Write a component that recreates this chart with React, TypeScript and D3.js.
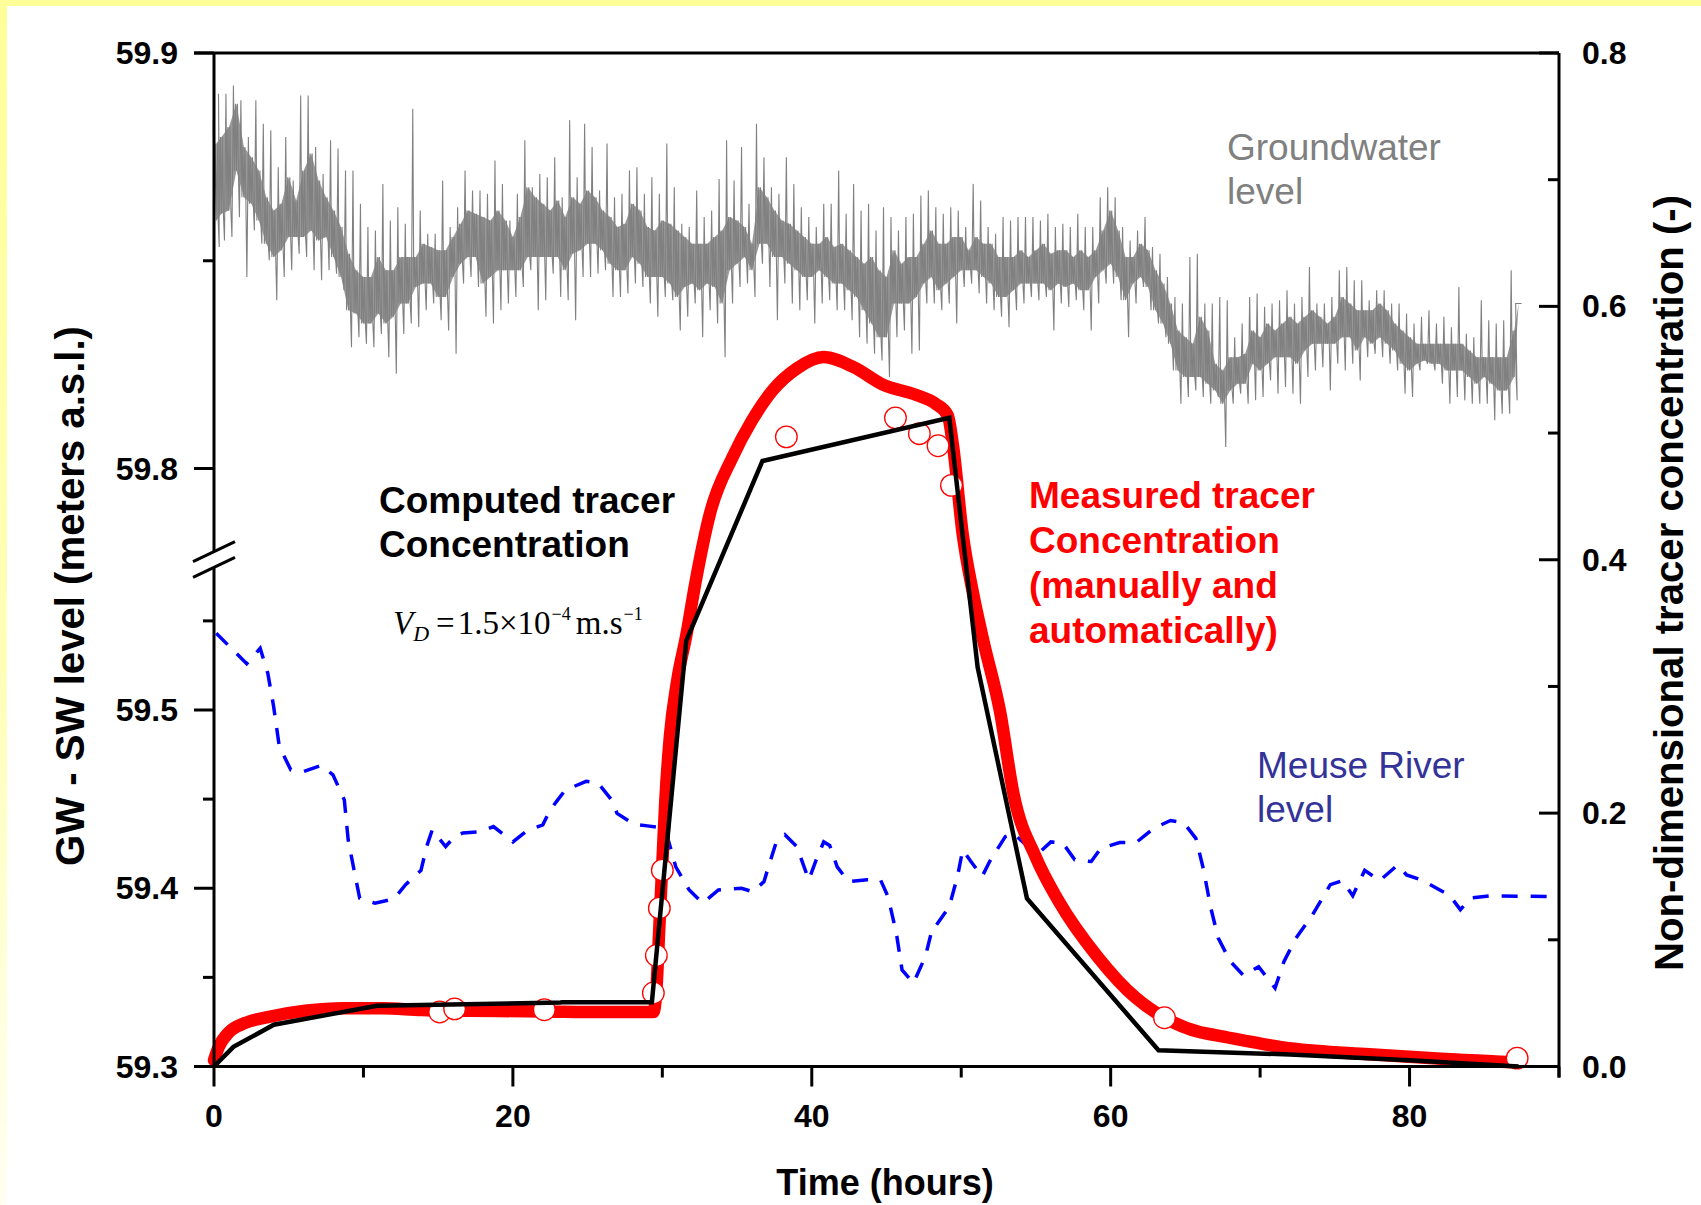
import React from 'react';
import * as d3 from 'd3';

// ---------------- DATA ----------------
// Groundwater level (m a.s.l.), read every half hour: spike extremes and dense core band
const gwTime = [0.15, 0.5, 1, 1.5, 2, 2.5, 3, 3.5, 4, 4.5, 5, 5.5, 6, 6.5, 7, 7.5, 8, 8.5, 9, 9.5, 10, 10.5, 11, 11.5, 12, 12.5, 13, 13.5, 14, 14.5, 15, 15.5, 16, 16.5, 17, 17.5, 18, 18.5, 19, 19.5, 20, 20.5, 21, 21.5, 22, 22.5, 23, 23.5, 24, 24.5, 25, 25.5, 26, 26.5, 27, 27.5, 28, 28.5, 29, 29.5, 30, 30.5, 31, 31.5, 32, 32.5, 33, 33.5, 34, 34.5, 35, 35.5, 36, 36.5, 37, 37.5, 38, 38.5, 39, 39.5, 40, 40.5, 41, 41.5, 42, 42.5, 43, 43.5, 44, 44.5, 45, 45.5, 46, 46.5, 47, 47.5, 48, 48.5, 49, 49.5, 50, 50.5, 51, 51.5, 52, 52.5, 53, 53.5, 54, 54.5, 55, 55.5, 56, 56.5, 57, 57.5, 58, 58.5, 59, 59.5, 60, 60.5, 61, 61.5, 62, 62.5, 63, 63.5, 64, 64.5, 65, 65.5, 66, 66.5, 67, 67.5, 68, 68.5, 69, 69.5, 70, 70.5, 71, 71.5, 72, 72.5, 73, 73.5, 74, 74.5, 75, 75.5, 76, 76.5, 77, 77.5, 78, 78.5, 79, 79.5, 80, 80.5, 81, 81.5, 82, 82.5, 83, 83.5, 84, 84.5, 85, 85.5, 86, 86.5, 87, 87.3];
const gwSpikeHigh = [59.8838, 59.8902, 59.8902, 59.8922, 59.8886, 59.8798, 59.8886, 59.8830, 59.8814, 59.8725, 59.8798, 59.8693, 59.8898, 59.8898, 59.8774, 59.8709, 59.8790, 59.8770, 59.8717, 59.8717, 59.8637, 59.8581, 59.8573, 59.8685, 59.8597, 59.8629, 59.8589, 59.8866, 59.8621, 59.8565, 59.8565, 59.8693, 59.8581, 59.8629, 59.8717, 59.8669, 59.8669, 59.8661, 59.8741, 59.8685, 59.8597, 59.8661, 59.8790, 59.8677, 59.8709, 59.8701, 59.8749, 59.8653, 59.8838, 59.8701, 59.8830, 59.8774, 59.8669, 59.8782, 59.8653, 59.8661, 59.8717, 59.8725, 59.8661, 59.8701, 59.8661, 59.8782, 59.8677, 59.8589, 59.8581, 59.8669, 59.8605, 59.8621, 59.8697, 59.8790, 59.8693, 59.8774, 59.8637, 59.8830, 59.8749, 59.8677, 59.8661, 59.8749, 59.8685, 59.8629, 59.8605, 59.8581, 59.8637, 59.8637, 59.8717, 59.8613, 59.8685, 59.8621, 59.8637, 59.8573, 59.8629, 59.8605, 59.8573, 59.8605, 59.8613, 59.8657, 59.8669, 59.8629, 59.8613, 59.8629, 59.8621, 59.8581, 59.8685, 59.8645, 59.8581, 59.8565, 59.8605, 59.8597, 59.8605, 59.8605, 59.8605, 59.8597, 59.8613, 59.8581, 59.8589, 59.8581, 59.8613, 59.8581, 59.8581, 59.8653, 59.8677, 59.8653, 59.8581, 59.8549, 59.8573, 59.8605, 59.8533, 59.8517, 59.8461, 59.8413, 59.8397, 59.8509, 59.8517, 59.8397, 59.8397, 59.8413, 59.8405, 59.8316, 59.8349, 59.8413, 59.8421, 59.8389, 59.8397, 59.8405, 59.8429, 59.8397, 59.8413, 59.8485, 59.8397, 59.8397, 59.8413, 59.8477, 59.8485, 59.8453, 59.8453, 59.8405, 59.8429, 59.8429, 59.8397, 59.8397, 59.8373, 59.8349, 59.8365, 59.8381, 59.8349, 59.8365, 59.8340, 59.8437, 59.8324, 59.8316, 59.8405, 59.8357, 59.8349, 59.8357, 59.8477, 59.8397];
const gwSpikeLow = [59.8533, 59.8549, 59.8557, 59.8605, 59.8461, 59.8573, 59.8541, 59.8501, 59.8405, 59.8461, 59.8477, 59.8517, 59.8509, 59.8477, 59.8453, 59.8477, 59.8469, 59.8429, 59.8292, 59.8316, 59.8300, 59.8292, 59.8324, 59.8268, 59.8228, 59.8324, 59.8349, 59.8340, 59.8381, 59.8397, 59.8357, 59.8332, 59.8276, 59.8445, 59.8461, 59.8437, 59.8365, 59.8349, 59.8381, 59.8397, 59.8413, 59.8437, 59.8477, 59.8381, 59.8405, 59.8469, 59.8413, 59.8405, 59.8357, 59.8461, 59.8461, 59.8469, 59.8477, 59.8413, 59.8413, 59.8421, 59.8445, 59.8437, 59.8397, 59.8365, 59.8413, 59.8405, 59.8332, 59.8365, 59.8397, 59.8316, 59.8381, 59.8349, 59.8268, 59.8397, 59.8437, 59.8445, 59.8413, 59.8493, 59.8437, 59.8357, 59.8445, 59.8397, 59.8381, 59.8405, 59.8349, 59.8397, 59.8405, 59.8381, 59.8381, 59.8357, 59.8316, 59.8300, 59.8276, 59.8260, 59.8220, 59.8316, 59.8332, 59.8276, 59.8284, 59.8397, 59.8397, 59.8381, 59.8397, 59.8349, 59.8437, 59.8445, 59.8421, 59.8397, 59.8381, 59.8365, 59.8340, 59.8381, 59.8397, 59.8413, 59.8405, 59.8413, 59.8332, 59.8397, 59.8389, 59.8405, 59.8381, 59.8332, 59.8397, 59.8445, 59.8445, 59.8405, 59.8316, 59.8397, 59.8437, 59.8381, 59.8349, 59.8316, 59.8236, 59.8156, 59.8172, 59.8188, 59.8172, 59.8156, 59.8172, 59.8052, 59.8156, 59.8180, 59.8156, 59.8164, 59.8172, 59.8212, 59.8180, 59.8196, 59.8180, 59.8156, 59.8220, 59.8236, 59.8244, 59.8188, 59.8252, 59.8236, 59.8252, 59.8212, 59.8268, 59.8276, 59.8268, 59.8252, 59.8236, 59.8180, 59.8172, 59.8236, 59.8252, 59.8236, 59.8204, 59.8156, 59.8172, 59.8164, 59.8156, 59.8156, 59.8156, 59.8116, 59.8132, 59.8132, 59.8164, 59.8397];
const gwBandHigh = [59.8782, 59.8798, 59.8822, 59.8878, 59.8774, 59.8749, 59.8717, 59.8653, 59.8621, 59.8637, 59.8701, 59.8645, 59.8717, 59.8758, 59.8693, 59.8653, 59.8621, 59.8581, 59.8517, 59.8477, 59.8461, 59.8461, 59.8509, 59.8477, 59.8477, 59.8509, 59.8509, 59.8509, 59.8541, 59.8533, 59.8525, 59.8525, 59.8557, 59.8589, 59.8621, 59.8613, 59.8605, 59.8597, 59.8621, 59.8597, 59.8557, 59.8605, 59.8677, 59.8653, 59.8637, 59.8621, 59.8645, 59.8605, 59.8653, 59.8637, 59.8669, 59.8653, 59.8621, 59.8605, 59.8581, 59.8589, 59.8637, 59.8621, 59.8581, 59.8573, 59.8597, 59.8589, 59.8573, 59.8557, 59.8541, 59.8541, 59.8541, 59.8557, 59.8573, 59.8605, 59.8597, 59.8581, 59.8541, 59.8677, 59.8653, 59.8621, 59.8597, 59.8589, 59.8573, 59.8557, 59.8541, 59.8541, 59.8557, 59.8533, 59.8541, 59.8525, 59.8509, 59.8493, 59.8509, 59.8477, 59.8461, 59.8525, 59.8493, 59.8509, 59.8509, 59.8541, 59.8573, 59.8541, 59.8541, 59.8557, 59.8557, 59.8525, 59.8557, 59.8541, 59.8541, 59.8509, 59.8509, 59.8509, 59.8525, 59.8509, 59.8525, 59.8541, 59.8517, 59.8525, 59.8525, 59.8509, 59.8525, 59.8509, 59.8525, 59.8573, 59.8621, 59.8573, 59.8509, 59.8509, 59.8541, 59.8525, 59.8477, 59.8445, 59.8397, 59.8332, 59.8316, 59.8300, 59.8365, 59.8332, 59.8252, 59.8236, 59.8268, 59.8268, 59.8276, 59.8332, 59.8316, 59.8349, 59.8332, 59.8349, 59.8365, 59.8349, 59.8365, 59.8381, 59.8365, 59.8349, 59.8365, 59.8413, 59.8397, 59.8381, 59.8381, 59.8381, 59.8397, 59.8381, 59.8349, 59.8332, 59.8316, 59.8300, 59.8300, 59.8300, 59.8300, 59.8300, 59.8300, 59.8300, 59.8284, 59.8268, 59.8268, 59.8268, 59.8268, 59.8268, 59.8332, 59.8397];
const gwBandLow = [59.8597, 59.8613, 59.8621, 59.8717, 59.8653, 59.8637, 59.8597, 59.8541, 59.8509, 59.8525, 59.8557, 59.8557, 59.8557, 59.8573, 59.8549, 59.8557, 59.8509, 59.8461, 59.8381, 59.8373, 59.8349, 59.8349, 59.8373, 59.8349, 59.8365, 59.8397, 59.8397, 59.8437, 59.8445, 59.8445, 59.8413, 59.8413, 59.8461, 59.8493, 59.8509, 59.8509, 59.8445, 59.8461, 59.8477, 59.8477, 59.8477, 59.8477, 59.8509, 59.8509, 59.8509, 59.8509, 59.8509, 59.8477, 59.8517, 59.8525, 59.8541, 59.8541, 59.8525, 59.8493, 59.8477, 59.8477, 59.8509, 59.8493, 59.8461, 59.8461, 59.8461, 59.8445, 59.8413, 59.8437, 59.8445, 59.8429, 59.8445, 59.8437, 59.8397, 59.8477, 59.8493, 59.8509, 59.8477, 59.8541, 59.8541, 59.8509, 59.8509, 59.8493, 59.8477, 59.8461, 59.8461, 59.8477, 59.8461, 59.8445, 59.8445, 59.8429, 59.8413, 59.8381, 59.8349, 59.8316, 59.8316, 59.8397, 59.8397, 59.8397, 59.8413, 59.8445, 59.8461, 59.8429, 59.8445, 59.8461, 59.8477, 59.8477, 59.8477, 59.8461, 59.8445, 59.8413, 59.8413, 59.8429, 59.8445, 59.8445, 59.8445, 59.8445, 59.8429, 59.8445, 59.8437, 59.8445, 59.8429, 59.8429, 59.8461, 59.8477, 59.8493, 59.8461, 59.8405, 59.8445, 59.8461, 59.8437, 59.8381, 59.8349, 59.8300, 59.8236, 59.8220, 59.8220, 59.8220, 59.8204, 59.8188, 59.8156, 59.8188, 59.8204, 59.8204, 59.8252, 59.8236, 59.8252, 59.8268, 59.8268, 59.8268, 59.8252, 59.8284, 59.8300, 59.8300, 59.8300, 59.8300, 59.8316, 59.8316, 59.8284, 59.8316, 59.8300, 59.8316, 59.8300, 59.8284, 59.8252, 59.8236, 59.8252, 59.8260, 59.8252, 59.8252, 59.8236, 59.8236, 59.8236, 59.8220, 59.8204, 59.8220, 59.8204, 59.8188, 59.8188, 59.8220, 59.8397];

// Meuse River level (m a.s.l.)
const meuseTime = [0.15, 1.04, 2.19, 3.09, 3.6, 3.99, 4.37, 5.14, 6.0, 7.19, 7.96, 8.72, 8.98, 9.5, 9.75, 10.77, 12.04, 12.82, 13.85, 14.23, 14.6, 15.5, 16.1, 16.66, 17.9, 18.7, 20, 20.9, 22.0, 22.5, 23.0, 23.5, 24.9, 25.7, 26.6, 26.97, 28.1, 29.0, 29.9, 30.4, 30.9, 31.8, 32.7, 33.75, 35.3, 36.05, 36.8, 37.1, 37.6, 38.2, 39.0, 39.4, 39.8, 40.3, 40.8, 41.2, 41.7, 42.46, 43.7, 44.6, 45.1, 45.66, 46.04, 46.8, 47.6, 48.1, 48.35, 49.2, 49.75, 50.1, 50.65, 51.4, 51.9, 52.95, 53.5, 54.2, 55.3, 56.0, 56.8, 57.6, 58.7, 59.35, 60.6, 61.7, 62.9, 64.0, 64.9, 65.7, 66.2, 66.7, 67.2, 68.0, 68.9, 69.9, 71.0, 71.6, 72.4, 73.5, 74.7, 75.5, 76.2, 77.0, 78.0, 79.2, 79.8, 80.9, 81.6, 82.7, 83.4, 84.1, 85.4, 90];
const meuseLevel = [59.543, 59.5356, 59.526, 59.5346, 59.5206, 59.502, 59.4795, 59.4664, 59.4655, 59.469, 59.4636, 59.4496, 59.427, 59.4047, 59.3944, 59.3916, 59.394, 59.402, 59.41, 59.4234, 59.4327, 59.4234, 59.429, 59.431, 59.4318, 59.4346, 59.426, 59.432, 59.4356, 59.444, 59.4496, 59.455, 59.46, 59.459, 59.4496, 59.442, 59.436, 59.435, 59.434, 59.427, 59.412, 59.399, 59.3916, 59.399, 59.4, 59.398, 59.4037, 59.412, 59.4253, 59.43, 59.4234, 59.414, 59.4047, 59.416, 59.426, 59.424, 59.412, 59.4037, 59.4047, 59.4047, 59.3953, 59.3748, 59.3542, 59.3468, 59.3617, 59.3785, 59.3795, 59.3897, 59.4066, 59.4215, 59.415, 59.4066, 59.415, 59.429, 59.4308, 59.4253, 59.4206, 59.426, 59.4253, 59.416, 59.415, 59.4225, 59.4256, 59.4256, 59.4337, 59.438, 59.4367, 59.428, 59.411, 59.389, 59.372, 59.359, 59.351, 59.356, 59.344, 59.359, 59.372, 59.385, 59.402, 59.4043, 59.3958, 59.41, 59.4043, 59.413, 59.4075, 59.4043, 59.401, 59.3958, 59.388, 59.3946, 59.3958, 59.3952];

// Measured tracer concentration (continuous record)
const measuredTime = [0, 0.3, 1.0, 2.0, 3.6, 6.1, 8.7, 11.3, 13.9, 17, 22, 26, 29.4, 29.6, 29.8, 30.0, 30.2, 30.5, 31.0, 31.6, 32.2, 33.2, 34.7, 36.0, 37.4, 39.0, 40.8, 42.8, 44.8, 47.0, 48.3, 49.1, 49.45, 50.1, 50.8, 51.5, 52.6, 53.5, 55.0, 56.5, 59.1, 61.7, 63.6, 66.0, 67.0, 72.1, 77.3, 82.4, 86.5, 87.3];
const measuredConc = [0.005, 0.015, 0.027, 0.034, 0.039, 0.044, 0.046, 0.046, 0.0445, 0.044, 0.0435, 0.043, 0.043, 0.06, 0.11, 0.16, 0.21, 0.26, 0.305, 0.34, 0.381, 0.437, 0.481, 0.51, 0.534, 0.551, 0.56, 0.552, 0.538, 0.53, 0.523, 0.514, 0.49, 0.42, 0.373, 0.335, 0.28, 0.215, 0.165, 0.131, 0.087, 0.054, 0.0385, 0.027, 0.0248, 0.0142, 0.0096, 0.006, 0.0036, 0.003];

// Manual samples (open circles)
const sampleTime = [15.1, 16.1, 22.1, 29.4, 29.6, 29.8, 30.0, 38.3, 45.6, 47.2, 48.45, 49.35, 63.6, 87.2];
const sampleConc = [0.043, 0.0455, 0.0448, 0.058, 0.0876, 0.125, 0.155, 0.497, 0.512, 0.4995, 0.49, 0.4587, 0.0385, 0.0066];

// Computed tracer concentration
const computedTime = [0, 1.3, 4.0, 10.9, 23.2, 23.3, 29.3, 31.6, 36.7, 49.2, 51.1, 54.4, 63.2, 72.0, 80.0, 87.3];
const computedConc = [0, 0.0155, 0.033, 0.048, 0.0505, 0.0508, 0.0508, 0.336, 0.478, 0.512, 0.315, 0.1326, 0.0128, 0.0095, 0.005, 0.0];

// Ticks
const xMajorTicks = [0, 20, 40, 60, 80];
const xMinorTicks = [10, 30, 50, 70, 90];
const leftUpperMajor = [59.8, 59.9];
const leftUpperMinor = [59.85];
const leftLowerMajor = [59.3, 59.4, 59.5];
const leftLowerMinor = [59.35, 59.45, 59.55];
const rightMajor = [0, 0.2, 0.4, 0.6, 0.8];
const rightMinor = [0.1, 0.3, 0.5, 0.7];

const SANS = 'Liberation Sans, Arial, Helvetica, sans-serif';
const SERIF = 'Liberation Serif, Times New Roman, serif';

export default function App() {
  const W = 1701;
  const H = 1205;
  const left = 214;
  const right = 1559;
  const top = 53;
  const bottom = 1066.5;

  const x = d3.scaleLinear().domain([0, 90]).range([left, right]);
  const yR = d3.scaleLinear().domain([0, 0.8]).range([bottom, top]);
  const yU = d3.scaleLinear().domain([59.8, 59.9]).range([468.5, top]);
  const yL = d3.scaleLinear().domain([59.3, 59.5]).range([bottom, 710]);
  const breakTop = yU(59.78);
  const breakBot = yL(59.58);

  const n = Math.min(gwTime.length, gwSpikeHigh.length, gwSpikeLow.length, gwBandHigh.length, gwBandLow.length);
  const gwRows = d3.range(n).map((i) => ({
    t: gwTime[i], hi: gwSpikeHigh[i], lo: gwSpikeLow[i], bh: gwBandHigh[i], bl: gwBandLow[i],
  }));
  const band = d3
    .area<any>()
    .x((d) => x(d.t))
    .y0((d) => yU(d.bl))
    .y1((d) => yU(d.bh));
  // spike trace: each half-hour reading visits its extremes and the core band edges
  const zig: [number, number][] = [];
  gwRows.forEach((d) => {
    zig.push([x(d.t - 0.2), yU(d.hi)]);
    zig.push([x(d.t - 0.13), yU(d.bl)]);
    zig.push([x(d.t - 0.07), yU(d.bh)]);
    zig.push([x(d.t), yU(d.bl)]);
    zig.push([x(d.t + 0.07), yU(d.bh)]);
    zig.push([x(d.t + 0.13), yU(d.bl)]);
    zig.push([x(d.t + 0.2), yU(d.lo)]);
  });
  const zigPath = d3.line()(zig) || '';

  const meusePath =
    d3
      .line<number>()
      .x((_, i) => x(meuseTime[i]))
      .y((v) => yL(v))(meuseLevel) || '';

  const measuredPath =
    d3
      .line<number>()
      .curve(d3.curveMonotoneX)
      .x((_, i) => x(measuredTime[i]))
      .y((v) => yR(v))(measuredConc) || '';

  const computedPath =
    d3
      .line<number>()
      .x((_, i) => x(computedTime[i]))
      .y((v) => yR(v))(computedConc) || '';

  const axisW = 3;
  const majorLen = 20;
  const minorLen = 11;

  return (
    <svg
      width={W}
      height={H}
      viewBox={`0 0 ${W} ${H}`}
      style={{ position: 'absolute', left: 0, top: 0, display: 'block', background: '#fff' }}
    >
      <defs>
        <linearGradient id="leftBand" x1="0" y1="0" x2="0" y2="1">
          <stop offset="0" stopColor="#ffff99" />
          <stop offset="0.55" stopColor="#ffffb8" />
          <stop offset="1" stopColor="#fffff2" />
        </linearGradient>
      </defs>
      <rect x={0} y={0} width={W} height={H} fill="#ffffff" />
      <rect x={0} y={0} width={W} height={6} fill="#ffff99" />
      <rect x={0} y={0} width={7} height={H} fill="url(#leftBand)" />

      {/* Groundwater level */}
      <path d={band(gwRows) || ''} fill="#808080" fillOpacity={0.8} stroke="none" />
      <path d={zigPath} fill="none" stroke="#808080" strokeWidth={1.1} />

      {/* Meuse River level */}
      <path d={meusePath} fill="none" stroke="#0000ff" strokeWidth={3.5} strokeDasharray="16 13" />

      {/* Measured tracer */}
      <path d={measuredPath} fill="none" stroke="#ff0000" strokeWidth={12.5} strokeLinejoin="round" strokeLinecap="round" />
      {sampleTime.map((t, i) => (
        <circle key={i} cx={x(t)} cy={yR(sampleConc[i])} r={10.8} fill="#ffffff" stroke="#ff0000" strokeWidth={1.3} />
      ))}

      {/* Computed tracer */}
      <path d={computedPath} fill="none" stroke="#000000" strokeWidth={4.5} strokeLinejoin="miter" />

      {/* Axes frame */}
      <line x1={left - majorLen} y1={top} x2={right} y2={top} stroke="#000" strokeWidth={axisW} />
      <line x1={left} y1={top} x2={left} y2={breakTop} stroke="#000" strokeWidth={axisW} />
      <line x1={left} y1={breakBot} x2={left} y2={bottom} stroke="#000" strokeWidth={axisW} />
      <line x1={left - majorLen} y1={bottom} x2={right} y2={bottom} stroke="#000" strokeWidth={axisW} />
      <line x1={right} y1={top} x2={right} y2={bottom + minorLen} stroke="#000" strokeWidth={axisW} />

      {/* break marks */}
      {[breakTop, breakBot].map((yy, i) => (
        <line key={i} x1={left - 21} y1={yy + 10} x2={left + 21} y2={yy - 10} stroke="#000" strokeWidth={3} />
      ))}

      {/* x ticks */}
      {xMajorTicks.map((t) => (
        <g key={'xm' + t}>
          <line x1={x(t)} y1={bottom} x2={x(t)} y2={bottom + majorLen} stroke="#000" strokeWidth={axisW} />
          <text x={x(t)} y={1127} textAnchor="middle" fontFamily={SANS} fontWeight="bold" fontSize={32}>
            {t}
          </text>
        </g>
      ))}
      {xMinorTicks.map((t) => (
        <line key={'xn' + t} x1={x(t)} y1={bottom} x2={x(t)} y2={bottom + minorLen} stroke="#000" strokeWidth={axisW} />
      ))}

      {/* left ticks */}
      {leftUpperMajor.map((v) => (
        <g key={'lu' + v}>
          <line x1={left - majorLen} y1={yU(v)} x2={left} y2={yU(v)} stroke="#000" strokeWidth={axisW} />
          <text x={178} y={yU(v) + 11} textAnchor="end" fontFamily={SANS} fontWeight="bold" fontSize={32}>
            {v.toFixed(1)}
          </text>
        </g>
      ))}
      {leftUpperMinor.map((v) => (
        <line key={'lun' + v} x1={left - minorLen} y1={yU(v)} x2={left} y2={yU(v)} stroke="#000" strokeWidth={axisW} />
      ))}
      {leftLowerMajor.map((v) => (
        <g key={'ll' + v}>
          <line x1={left - majorLen} y1={yL(v)} x2={left} y2={yL(v)} stroke="#000" strokeWidth={axisW} />
          <text x={178} y={yL(v) + 11} textAnchor="end" fontFamily={SANS} fontWeight="bold" fontSize={32}>
            {v.toFixed(1)}
          </text>
        </g>
      ))}
      {leftLowerMinor.map((v) => (
        <line key={'lln' + v} x1={left - minorLen} y1={yL(v)} x2={left} y2={yL(v)} stroke="#000" strokeWidth={axisW} />
      ))}

      {/* right ticks (inward) */}
      {rightMajor.map((v) => (
        <g key={'r' + v}>
          <line x1={right - majorLen} y1={yR(v)} x2={right} y2={yR(v)} stroke="#000" strokeWidth={axisW} />
          <text x={1582} y={yR(v) + 11} textAnchor="start" fontFamily={SANS} fontWeight="bold" fontSize={32}>
            {v.toFixed(1)}
          </text>
        </g>
      ))}
      {rightMinor.map((v) => (
        <line key={'rn' + v} x1={right - minorLen} y1={yR(v)} x2={right} y2={yR(v)} stroke="#000" strokeWidth={axisW} />
      ))}

      {/* Axis titles */}
      <text x={885} y={1195} textAnchor="middle" fontFamily={SANS} fontWeight="bold" fontSize={36}>
        Time (hours)
      </text>
      <text
        transform="translate(84,596) rotate(-90)"
        textAnchor="middle"
        fontFamily={SANS}
        fontWeight="bold"
        fontSize={41}
        textLength={540}
        lengthAdjust="spacingAndGlyphs"
      >
        GW - SW level (meters a.s.l.)
      </text>
      <text
        transform="translate(1683,583) rotate(-90)"
        textAnchor="middle"
        fontFamily={SANS}
        fontWeight="bold"
        fontSize={40}
        textLength={776}
        lengthAdjust="spacingAndGlyphs"
      >
        Non-dimensional tracer concentration (-)
      </text>

      {/* Annotations */}
      <text fontFamily={SANS} fontSize={37} fill="#808080">
        <tspan x={1227} y={160}>Groundwater</tspan>
        <tspan x={1227} y={204}>level</tspan>
      </text>
      <text fontFamily={SANS} fontSize={37} fill="#333399">
        <tspan x={1257} y={778}>Meuse River</tspan>
        <tspan x={1257} y={822}>level</tspan>
      </text>
      <text fontFamily={SANS} fontSize={37} fontWeight="bold" fill="#000">
        <tspan x={379} y={513}>Computed tracer</tspan>
        <tspan x={379} y={557}>Concentration</tspan>
      </text>
      <text fontFamily={SANS} fontSize={37} fontWeight="bold" fill="#ff0000">
        <tspan x={1029} y={508}>Measured tracer</tspan>
        <tspan x={1029} y={553}>Concentration</tspan>
        <tspan x={1029} y={598}>(manually and</tspan>
        <tspan x={1029} y={643}>automatically)</tspan>
      </text>
      <text x={393} y={634} fontFamily={SERIF} fontSize={33} fill="#000">
        <tspan fontStyle="italic">V</tspan>
        <tspan fontStyle="italic" fontSize={22} dy={7}>D</tspan>
        <tspan dy={-7} dx={7}>=</tspan>
        <tspan dx={3}>1.5×10</tspan>
        <tspan fontSize={18} dy={-14} dx={1}>−4</tspan>
        <tspan dy={14} dx={5}>m.s</tspan>
        <tspan fontSize={18} dy={-14} dx={1}>−1</tspan>
      </text>
    </svg>
  );
}
